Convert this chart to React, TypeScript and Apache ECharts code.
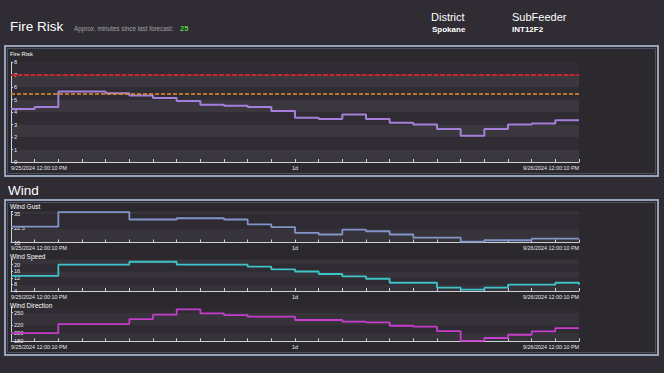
import React, { useEffect, useRef } from "react";
import * as echarts from "echarts";

// ---------- data ----------
const hours = [0, 1, 2, 3, 4, 5, 6, 7, 8, 9, 10, 11, 12, 13, 14, 15, 16, 17, 18, 19, 20, 21, 22, 23, 24];
const startLabel = "9/25/2024 12:00:10 PM";
const midLabel = "1d";
const endLabel = "9/26/2024 12:00:10 PM";

const fireRisk = [4.25, 4.4, 5.65, 5.65, 5.5, 5.32, 5.13, 4.88, 4.58, 4.5, 4.4, 4.08, 3.55, 3.45, 3.8, 3.45, 3.15, 3.0, 2.65, 2.1, 2.65, 3.0, 3.08, 3.35, 3.35];
const fireThresholds = [7, 5.5];
const windGust = [24, 24, 37, 37, 37, 30.4, 30.4, 31.5, 31.5, 30.4, 26, 23.6, 18.6, 17.1, 21.4, 20, 17.1, 14.3, 14.3, 10.8, 12, 12, 13.4, 13.4, 13.4];
const windSpeed = [13.2, 13.2, 19.9, 19.9, 19.9, 21.7, 21.7, 19.9, 19.9, 19.9, 18.7, 17.1, 15.8, 14.3, 12.9, 11.4, 9.0, 9.0, 6.0, 4.8, 6.0, 7.8, 7.8, 9.0, 7.8];
const windDirection = [200, 200, 222, 222, 222, 234, 245, 258, 248, 244, 240, 240, 232, 232, 228, 226, 218, 216, 205, 181, 188, 196, 204, 212, 212];

const fireTicks = [0, 1, 2, 3, 4, 5, 6, 7, 8];
const gustTicks = [10, 22.5, 35];
const speedTicks = [4, 8, 12, 16, 20];
const directionTicks = [180, 200, 220, 250];

const minutesSinceForecast = 25;
const districtName = "Spokane";
const subFeederName = "INT12F2";

// ---------- styling ----------
const FONT = "'Liberation Sans', Arial, sans-serif";
const AXIS = "#cfcfd6";
const LABEL = "#e8e8ec";

const toPairs = (vals: number[]) => hours.map((h, i) => [h, vals[i]]);
const has = (list: number[], v: number) => list.some((t) => Math.abs(t - v) < 1e-6);

const makeX = (gridIndex: number) => ({
  type: "value",
  gridIndex,
  min: 0,
  max: 24,
  interval: 1,
  axisLine: { show: true, lineStyle: { color: AXIS, width: 1 } },
  axisTick: { show: true, inside: true, length: 3, lineStyle: { color: AXIS } },
  axisLabel: {
    show: true,
    fontSize: 5.4,
    fontFamily: FONT,
    color: LABEL,
    margin: 3,
    showMinLabel: true,
    showMaxLabel: true,
    alignMinLabel: "left",
    alignMaxLabel: "right",
    formatter: (v: number) => (v === 0 ? startLabel : v === 12 ? midLabel : v === 24 ? endLabel : ""),
  },
  splitLine: { show: false },
});

const makeY = (gridIndex: number, min: number, max: number, interval: number, ticks: number[], bands: string[]) => ({
  type: "value",
  gridIndex,
  min,
  max,
  interval,
  axisLine: { show: true, lineStyle: { color: AXIS, width: 1 } },
  axisTick: { show: true, inside: true, length: 2, lineStyle: { color: AXIS }, customValues: [...ticks, max] },
  axisLabel: {
    inside: true,
    fontSize: 5.6,
    fontFamily: FONT,
    color: LABEL,
    margin: 3,
    showMinLabel: true,
    showMaxLabel: true,
    formatter: (v: number) => (has(ticks, v) ? String(v) : ""),
  },
  splitLine: { show: false },
  splitArea: { show: true, areaStyle: { color: bands } },
});

const txt = (text: string, x: number, y: number, size: number, opts: any = {}) => ({
  type: "text",
  x,
  y,
  z: 20,
  silent: true,
  style: {
    text,
    fill: opts.fill || "#ffffff",
    fontSize: size,
    fontFamily: FONT,
    fontWeight: opts.bold ? "bold" : "normal",
    verticalAlign: "middle",
    align: "left",
  },
});

const panel = (x: number, y: number, w: number, h: number) => [
  {
    type: "rect",
    z: -10,
    silent: true,
    shape: { x, y, width: w, height: h },
    style: { fill: "#2b282e", stroke: "#97a3bb", lineWidth: 2 },
  },
  {
    type: "rect",
    z: -9,
    silent: true,
    shape: { x: x + 2.5, y: y + 2.5, width: w - 5, height: h - 5 },
    style: { fill: "none", stroke: "#4d5060", lineWidth: 1 },
  },
];

export default function App() {
  const ref = useRef<HTMLDivElement>(null);

  useEffect(() => {
    document.body.style.margin = "0";
    if (!ref.current) return;
    const chart = echarts.init(ref.current, undefined, { renderer: "svg" });

    const fireBands = ["#3a373e", "#2f2c33"];
    const windBands = ["#36333a", "#2e2b32"];

    const option: any = {
      animation: false,
      backgroundColor: "#302c33",
      textStyle: { fontFamily: FONT },
      grid: [
        { left: 11, top: 62, width: 568, height: 100, outerBoundsMode: "none", containLabel: false },
        { left: 11, top: 211.5, width: 568, height: 31, outerBoundsMode: "none", containLabel: false },
        { left: 11, top: 259.6, width: 568, height: 31.4, outerBoundsMode: "none", containLabel: false },
        { left: 11, top: 307.7, width: 568, height: 33.6, outerBoundsMode: "none", containLabel: false },
      ],
      xAxis: [makeX(0), makeX(1), makeX(2), makeX(3)],
      yAxis: [
        makeY(0, 0, 8, 1, fireTicks, fireBands),
        makeY(1, 10, 37.5, 2.5, gustTicks, windBands),
        makeY(2, 4, 23, 2, speedTicks, windBands),
        makeY(3, 180, 262, 10, directionTicks, windBands),
      ],
      series: [
        {
          name: "Fire Risk",
          type: "line",
          xAxisIndex: 0,
          yAxisIndex: 0,
          step: "end",
          symbol: "none",
          z: 3,
          lineStyle: { color: "#a57fdc", width: 2 },
          data: toPairs(fireRisk),
          markLine: {
            silent: true,
            symbol: ["none", "none"],
            label: { show: false },
            animation: false,
            lineStyle: { opacity: 1 },
            data: [
              { yAxis: fireThresholds[0], lineStyle: { color: "#c4262c", width: 2, type: [5, 1.5], opacity: 1 } },
              { yAxis: fireThresholds[1], lineStyle: { color: "#e8922a", width: 1.5, type: [4, 2], opacity: 1 } },
            ],
          },
        },
        {
          name: "Wind Gust",
          type: "line",
          xAxisIndex: 1,
          yAxisIndex: 1,
          step: "end",
          symbol: "none",
          lineStyle: { color: "#8195c9", width: 1.8 },
          data: toPairs(windGust),
        },
        {
          name: "Wind Speed",
          type: "line",
          xAxisIndex: 2,
          yAxisIndex: 2,
          step: "end",
          symbol: "none",
          lineStyle: { color: "#3cc4c8", width: 1.8 },
          data: toPairs(windSpeed),
        },
        {
          name: "Wind Direction",
          type: "line",
          xAxisIndex: 3,
          yAxisIndex: 3,
          step: "end",
          symbol: "none",
          lineStyle: { color: "#c63ccb", width: 1.8 },
          data: toPairs(windDirection),
        },
      ],
      graphic: [
        ...panel(5, 46, 653, 130),
        ...panel(5, 200, 653, 155),
        txt("Fire Risk", 10, 26, 13.5),
        txt("Approx. minutes since last forecast:", 74, 28.5, 6.3, { fill: "#a3a0a8" }),
        txt(String(minutesSinceForecast), 180, 28.5, 7.5, { fill: "#55d14f", bold: true }),
        txt("District", 431, 17, 11),
        txt(districtName, 432, 29, 8, { bold: true }),
        txt("SubFeeder", 512, 17, 11),
        txt(subFeederName, 512, 29, 8, { bold: true }),
        txt("Wind", 8, 190, 13.5),
        txt("Fire Risk", 10, 53.5, 5.8),
        txt("Wind Gust", 10, 206.5, 6.5),
        txt("Wind Speed", 10, 256, 6.5),
        txt("Wind Direction", 10, 305, 6.5),
      ],
    };

    chart.setOption(option);
    return () => chart.dispose();
  }, []);

  return <div ref={ref} style={{ width: 664, height: 373 }} />;
}
